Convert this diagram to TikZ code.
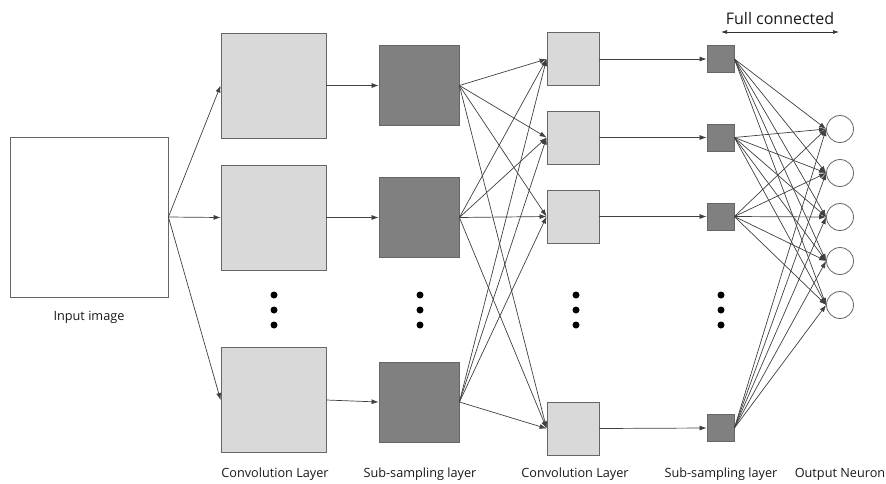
\documentclass[tikz,border=0pt]{standalone}
\usepackage{fontspec}
\setmainfont{Open Sans}
\usetikzlibrary{arrows.meta}
\begin{document}
\begin{tikzpicture}[x=1pt,y=-1pt,
  box/.style={draw=black!60,line width=0.8pt,inner sep=0pt,rectangle},
  inbox/.style={box,fill=white,minimum width=158pt,minimum height=160pt},
  convA/.style={box,fill=black!15,minimum width=105pt,minimum height=105pt},
  subA/.style={box,fill=black!50,minimum width=80pt,minimum height=80pt},
  convB/.style={box,fill=black!15,minimum width=52pt,minimum height=53pt},
  subB/.style={box,fill=black!50,minimum width=27pt,minimum height=27pt},
  neuron/.style={circle,draw=black!60,line width=0.8pt,fill=white,inner sep=0pt,minimum size=27pt},
  conn/.style={draw=black!75,line width=0.7pt,-{Latex[length=7pt,width=5pt]}},
  lbl/.style={font=\fontsize{12.7}{15}\selectfont,text=black!90},
  dotm/.style={circle,fill=black,inner sep=0pt,minimum size=7pt}
]
\useasboundingbox (0,0) rectangle (886,483);
% input
\node[inbox] (in) at (89,217) {};
\node[lbl] (inl) at (89,317) {Input image};
% conv 1
\node[convA] (c1a) at (273.5,85.5) {};
\node[convA] (c1b) at (273.5,217.5) {};
\node[convA] (c1c) at (273.5,400) {};
% sub 1
\node[subA] (s1a) at (419,85.5) {};
\node[subA] (s1b) at (419,217.5) {};
\node[subA] (s1c) at (419,402) {};
% conv 2
\node[convB] (c2a) at (573,59) {};
\node[convB] (c2b) at (573,137.5) {};
\node[convB] (c2c) at (573,216.5) {};
\node[convB] (c2d) at (573,428.5) {};
% sub 2
\node[subB] (s2a) at (720.5,59) {};
\node[subB] (s2b) at (720.5,137.5) {};
\node[subB] (s2c) at (720.5,216.5) {};
\node[subB] (s2d) at (720.5,428) {};
% outputs
\foreach \i/\y in {1/129,2/173,3/217,4/261,5/305}
  \node[neuron] (o\i) at (840,\y) {};
% dots
\foreach \x/\n in {274/a,420/b,576/c,721/d}
  \foreach \y/\m in {295/1,310/2,325/3}
    \node[dotm] (d\n\m) at (\x,\y) {};
% input -> conv1
\foreach \t in {c1a,c1b,c1c}
  \draw[conn] (in.east) -- (\t.west);
% conv1 -> sub1
\draw[conn] (c1a.east) -- (s1a.west);
\draw[conn] (c1b.east) -- (s1b.west);
\draw[conn] (c1c.east) -- (s1c.west);
% sub1 -> conv2 (full)
\foreach \s in {s1a,s1b,s1c}
  \foreach \t in {c2a,c2b,c2c,c2d}
    \draw[conn] (\s.east) -- (\t.west);
% conv2 -> sub2
\draw[conn] (c2a.east) -- (s2a.west);
\draw[conn] (c2b.east) -- (s2b.west);
\draw[conn] (c2c.east) -- (s2c.west);
\draw[conn] (c2d.east) -- (s2d.west);
% sub2 -> output (full)
\foreach \s in {s2a,s2b,s2c,s2d}
  \foreach \i in {1,...,5}
    \draw[conn] (\s.east) -- (o\i.west);
% full connected
\coordinate (fcl) at (721,32);
\coordinate (fcr) at (839,32);
\draw[draw=black!80,line width=0.7pt,{Latex[length=6pt,width=4pt]}-{Latex[length=6pt,width=4pt]}] (fcl) -- (fcr);
\node[font=\fontsize{16}{19}\selectfont,text=black!90] (fct) at (780,18) {Full connected};
% labels
\node[lbl] (l1) at (275,474) {Convolution Layer};
\node[lbl] (l2) at (420,474) {Sub-sampling layer};
\node[lbl] (l3) at (575,474) {Convolution Layer};
\node[lbl] (l4) at (721,474) {Sub-sampling layer};
\node[lbl] (l5) at (840,474) {Output Neuron};
\end{tikzpicture}
\end{document}
